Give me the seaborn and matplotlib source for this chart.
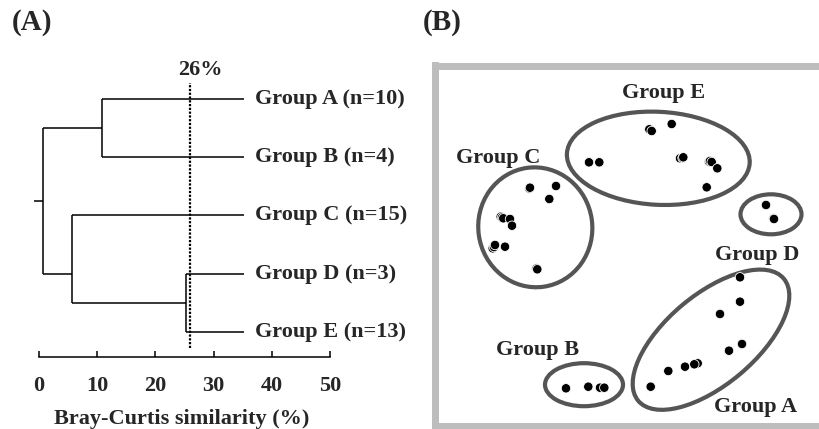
import numpy as np
import pandas as pd
import matplotlib
matplotlib.use("Agg")
import matplotlib.pyplot as plt
from matplotlib.patches import Ellipse
import seaborn as sns

sns.set_theme(style="white")
plt.rcParams["font.family"] = ["Liberation Serif", "DejaVu Serif"]
plt.rcParams["font.weight"] = "bold"

# ---------------- dendrogram data (panel A) ----------------
leaf_names = ["A", "B", "C", "D", "E"]
leaf_labels = ["Group A (n=10)", "Group B (n=4)", "Group C (n=15)",
               "Group D (n=3)", "Group E (n=13)"]
leaf_pos = [5, 4, 3, 2, 1]
leaf_extent = 35.3
# (child 1, child 2, similarity at merge, node name)
merge_left = ["A", "D", "C", "AB"]
merge_right = ["B", "E", "DE", "CDE"]
merge_height = [10.9, 25.2, 5.6, 0.7]
merge_node = ["AB", "DE", "CDE", "root"]
merge_pos = [4.5, 1.5, 2.0, 3.25]
root_stub = -0.8
cut_level = 26
xticks = [0, 10, 20, 30, 40, 50]

# ---------------- ordination data (panel B) ----------------
grpA_x = [1.00, 1.00, 0.80, 1.02, 0.89, 0.577, 0.543, 0.45, 0.283, 0.107]
grpA_y = [-0.373, -0.617, -0.74, -1.04, -1.107, -1.233, -1.243, -1.267, -1.31, -1.467]
grpB_x = [-0.74, -0.517, -0.40, -0.357]
grpB_y = [-1.483, -1.467, -1.477, -1.477]
grpC_x = [-1.107, -1.10, -0.84, -0.907, -1.393, -1.38, -1.367, -1.30, -1.28,
          -1.473, -1.46, -1.45, -1.35, -1.035, -1.027]
grpC_y = [0.515, 0.523, 0.54, 0.41, 0.233, 0.225, 0.217, 0.21, 0.143,
          -0.083, -0.07, -0.05, -0.067, -0.285, -0.293]
grpD_x = [1.26, 1.335, 1.34]
grpD_y = [0.35, 0.215, 0.21]
grpE_x = [0.093, 0.117, 0.317, -0.51, -0.407, 0.40, 0.425, 0.433, 0.69, 0.70,
          0.717, 0.773, 0.667]
grpE_y = [1.107, 1.09, 1.16, 0.777, 0.777, 0.817, 0.82, 0.827, 0.783, 0.79,
          0.78, 0.717, 0.527]

# ellipse outlines: centre x, centre y, width, height, angle
ell_group = ["A", "B", "C", "D", "E"]
ell_cx = [0.71, -0.56, -1.047, 1.31, 0.183]
ell_cy = [-0.997, -1.447, 0.127, 0.257, 0.817]
ell_w = [1.90, 0.78, 1.14, 0.61, 1.83]
ell_h = [0.90, 0.43, 1.20, 0.40, 0.93]
ell_ang = [40, 0, 8, 0, -3]

# group names placed next to the ellipses
lab_text = ["Group A", "Group B", "Group C", "Group D", "Group E"]
lab_x = [1.157, -1.02, -1.417, 1.167, 0.233]
lab_y = [-1.667, -1.10, 0.817, -0.15, 1.467]

W, H = 819, 429
fig = plt.figure(figsize=(W / 100, H / 100), dpi=100)


def px_box(x0, y0, x1, y1):
    """Figure-fraction rectangle from pixel corners (origin top-left)."""
    return [x0 / W, 1 - y1 / H, (x1 - x0) / W, (y1 - y0) / H]


# ================= panel A: dendrogram =================
ax0 = fig.add_axes(px_box(33.18, 52.4, 330.0, 357.0))
ax0.set_xlim(-1, 50)
ax0.set_ylim(0.57, 5.8)

node_x = {n: leaf_extent for n in leaf_names}
node_y = dict(zip(leaf_names, leaf_pos))
lc = dict(color="black", lw=1.1, solid_capstyle="butt")
for l, r, h, n, p in zip(merge_left, merge_right, merge_height, merge_node, merge_pos):
    for c in (l, r):
        ax0.plot([node_x[c], h], [node_y[c], node_y[c]], **lc)
    ax0.plot([h, h], [node_y[l], node_y[r]], **lc)
    node_x[n] = h
    node_y[n] = p
ax0.plot([node_x["root"], root_stub], [node_y["root"], node_y["root"]], **lc)

ax0.plot([cut_level, cut_level], [0.725, 5.275], color="black", lw=1.6,
         linestyle=(0, (1, 0.7)))
ax0.annotate(f"{cut_level}%", xy=(cut_level, 5.5), xytext=(10, 0),
             textcoords="offset pixels", ha="center", va="center",
             fontsize=16, fontweight="bold")

for name, lab in zip(leaf_names, leaf_labels):
    ax0.text(37.1, node_y[name], lab, ha="left", va="center", fontsize=16,
             fontweight="bold", clip_on=False)

for s in ["top", "right", "left"]:
    ax0.spines[s].set_visible(False)
ax0.spines["bottom"].set_bounds(0, 50)
ax0.spines["bottom"].set_color("black")
ax0.spines["bottom"].set_linewidth(1.1)
ax0.set_xticks(xticks)
ax0.set_xticklabels([str(t) for t in xticks])
ax0.set_yticks([])
ax0.tick_params(axis="x", which="major", bottom=True, direction="in",
                length=4, width=1.1, color="black", pad=14, labelsize=16)
for t in ax0.get_xticklabels():
    t.set_fontweight("bold")
ax0.set_xlabel("Bray-Curtis similarity (%)", fontsize=16, fontweight="bold",
               labelpad=9)
ax0.patch.set_alpha(0)

# ================= panel B: ordination =================
ax1 = fig.add_axes(px_box(434.5, 65.5, 819.0, 425.5))
ax1.set_xlim((434.5 - 640) / 100, (819 - 640) / 100)
ax1.set_ylim((240 - 425.5) / 100, (240 - 65.5) / 100)

df = pd.concat([
    pd.DataFrame({"x": grpA_x, "y": grpA_y, "group": "A"}),
    pd.DataFrame({"x": grpB_x, "y": grpB_y, "group": "B"}),
    pd.DataFrame({"x": grpC_x, "y": grpC_y, "group": "C"}),
    pd.DataFrame({"x": grpD_x, "y": grpD_y, "group": "D"}),
    pd.DataFrame({"x": grpE_x, "y": grpE_y, "group": "E"}),
], ignore_index=True)

for g, cx, cy, w, h, a in zip(ell_group, ell_cx, ell_cy, ell_w, ell_h, ell_ang):
    ax1.add_patch(Ellipse((cx, cy), w, h, angle=a, fill=False,
                          edgecolor="#555555", lw=3.0))

sns.scatterplot(data=df, x="x", y="y", hue="group",
                palette={g: "black" for g in ell_group}, legend=False,
                s=46, edgecolor="white", linewidth=0.6, ax=ax1, zorder=3)

for t, x, y in zip(lab_text, lab_x, lab_y):
    ax1.text(x, y, t, ha="center", va="center", fontsize=16, fontweight="bold")

ax1.set_xlabel("")
ax1.set_ylabel("")
ax1.set_xticks([])
ax1.set_yticks([])
ax1.spines["right"].set_visible(False)
for s in ["left", "top", "bottom"]:
    ax1.spines[s].set_color("#bdbdbd")
    ax1.spines[s].set_linewidth(5.0)
    ax1.spines[s].set_capstyle("projecting")
ax1.patch.set_alpha(0)

fig.text(32 / W, 1 - 22 / H, "(A)", ha="center", va="center", fontsize=21,
         fontweight="bold")
fig.text(442 / W, 1 - 22 / H, "(B)", ha="center", va="center", fontsize=21,
         fontweight="bold")

fig.savefig("out.png", dpi=100, facecolor="white")
